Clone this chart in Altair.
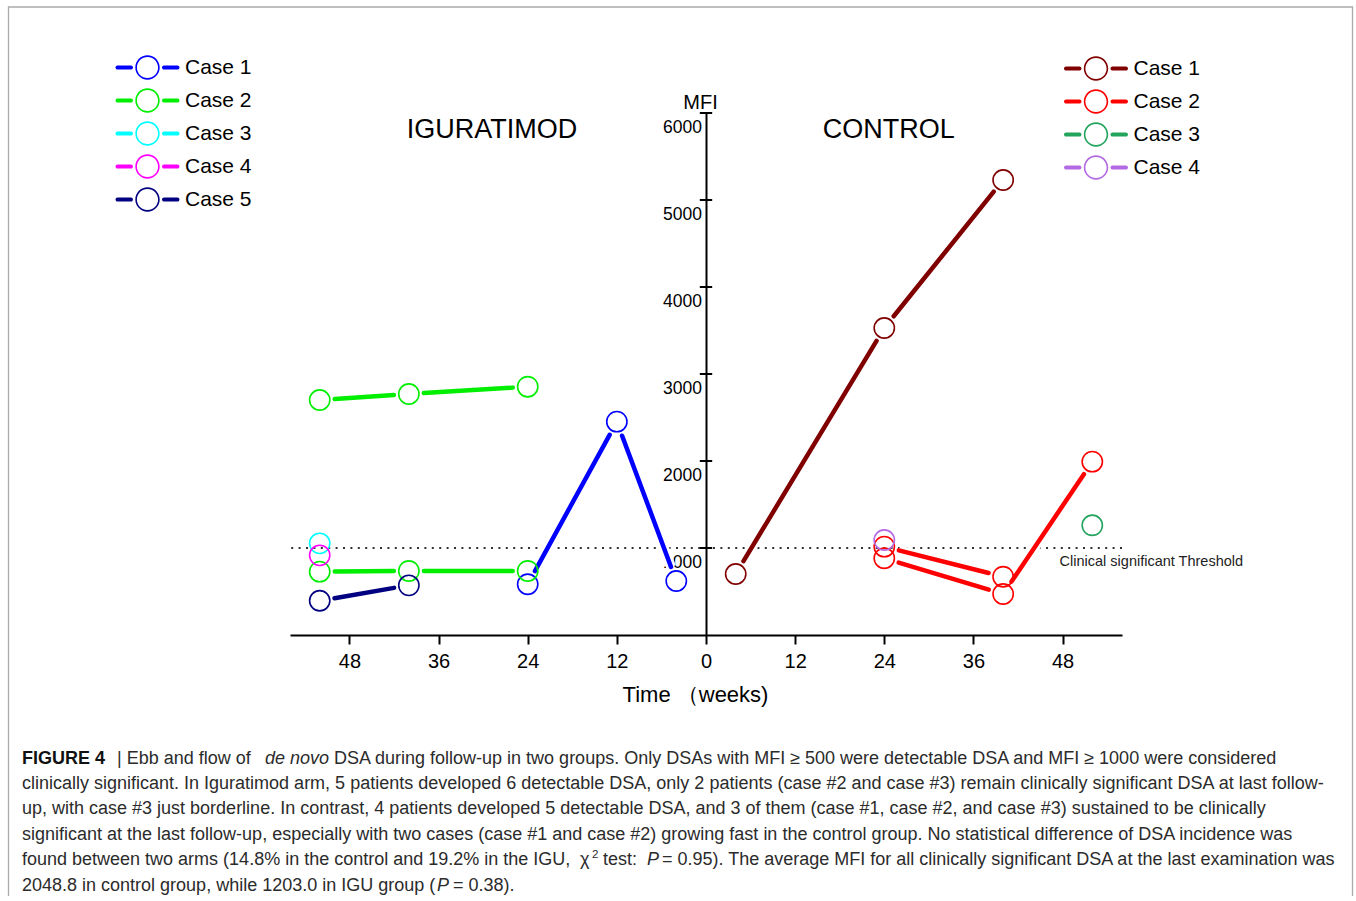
import altair as alt
import pandas as pd
import numpy as np

# ---------------- data ----------------
igu_cases = ["Case 1", "Case 2", "Case 3", "Case 4", "Case 5"]
ctl_cases = ["Case 1", "Case 2", "Case 3", "Case 4"]
igu_colors = ["#0000FF", "#00EE00", "#00FFFF", "#FF00FF", "#000080"]
ctl_colors = ["#800000", "#FF0000", "#22A45D", "#B36AE2"]

# one entry per DSA series (weeks of follow-up, MFI)
series_group = ["IGU", "IGU", "IGU", "IGU", "IGU", "IGU", "CTL", "CTL", "CTL", "CTL", "CTL"]
series_case = ["Case 1", "Case 2", "Case 2", "Case 3", "Case 4", "Case 5",
               "Case 1", "Case 2", "Case 2", "Case 3", "Case 4"]
series_weeks = [[24, 12, 4], [52, 40, 24], [52, 40, 24], [52], [52], [52, 40],
                [4, 24, 40], [24, 40], [24, 40, 52], [52], [24]]
series_mfi = [[583, 2452, 621], [2701, 2770, 2854], [728, 736, 736], [1054], [916], [394, 571],
              [701, 3529, 5230], [1015, 670], [882, 471, 1992], [1261], [1092]]

threshold = [1000]
y_tick_values = [1000, 2000, 3000, 4000, 5000, 6000]
x_tick_values = [-48, -36, -24, -12, 0, 12, 24, 36, 48]
panel_titles = ["IGURATIMOD", "CONTROL"]
panel_title_x = [-28.8, 24.6]
panel_title_y = [5713, 5713]

caption_segments = [
    (22, 0, "FIGURE 4", "bold"),
    (117, 0, "| Ebb and flow of", "normal"),
    (265, 0, "de novo", "italic"),
    (334, 0, "DSA during follow-up in two groups. Only DSAs with MFI \u2265 500 were detectable DSA and MFI \u2265 1000 were considered", "normal"),
    (22, 1, "clinically significant. In Iguratimod arm, 5 patients developed 6 detectable DSA, only 2 patients (case #2 and case #3) remain clinically significant DSA at last follow-", "normal"),
    (22, 2, "up, with case #3 just borderline. In contrast, 4 patients developed 5 detectable DSA, and 3 of them (case #1, case #2, and case #3) sustained to be clinically", "normal"),
    (22, 3, "significant at the last follow-up, especially with two cases (case #1 and case #2) growing fast in the control group. No statistical difference of DSA incidence was", "normal"),
    (22, 4, "found between two arms (14.8% in the control and 19.2% in the IGU,", "normal"),
    (580, 4, "\u03c7", "normal"),
    (592, 4, "2", "sup"),
    (603, 4, "test:", "normal"),
    (647, 4, "P", "italic"),
    (662, 4, "= 0.95). The average MFI for all clinically significant DSA at the last examination was", "normal"),
    (22, 5, "2048.8 in control group, while 1203.0 in IGU group (", "normal"),
    (437, 5, "P", "italic"),
    (453, 5, "= 0.38).", "normal"),
]
caption_baselines = [764, 789, 814, 840, 865, 891]

# ---------------- layout ----------------
W, H = 832, 522
LEFT, TOP = 290, 113
TOTAL_W, TOTAL_H = 1356, 896
XDOM, YDOM = [-56, 56], [0, 6000]
KX = W / (XDOM[1] - XDOM[0])
KY = H / (YDOM[1] - YDOM[0])
GAP = 15.0
FONT = "Liberation Sans"
CAP_SIZE = 18

X_SCALE = alt.Scale(domain=XDOM, nice=False, zero=False)
Y_SCALE = alt.Scale(domain=YDOM, nice=False, zero=False)
X_AXIS = alt.Axis(values=x_tick_values, labelExpr="format(abs(datum.value), 'd')",
                  title="Time \uff08weeks)", grid=False, domainColor="black", domainWidth=2,
                  tickColor="black", tickWidth=2, tickSize=9, labelFontSize=20, labelFont=FONT,
                  labelColor="black", labelPadding=7, labelFlush=False, labelBaseline="top",
                  titleFontSize=22, titleFont=FONT, titleFontWeight="normal", titleColor="black",
                  titleX=405, titleY=66, titleBaseline="alphabetic", titleAlign="center")
Y_AXIS = alt.Axis(orient="left", offset=-W / 2, values=y_tick_values, format="d", ticks=False,
                  tickSize=0, grid=False, domainColor="black", domainWidth=2, labelFontSize=17.5,
                  labelFont=FONT, labelColor="black", labelBaseline="top", labelOffset=5,
                  labelPadding=4.5, title="MFI", titleAngle=0, titleAlign="center",
                  titleBaseline="alphabetic", titleX=-6, titleY=-4.7, titleFontSize=20,
                  titleFont=FONT, titleFontWeight="normal", titleColor="black")


def X(f):
    return alt.X(f, type="quantitative", scale=X_SCALE, axis=X_AXIS)


def Y(f):
    return alt.Y(f, type="quantitative", scale=Y_SCALE, axis=Y_AXIS)


# ---------------- build tables ----------------
rows, segs = [], []
for sid, (g, c, wk, mf) in enumerate(zip(series_group, series_case, series_weeks, series_mfi)):
    sign = -1 if g == "IGU" else 1
    key = f"{g} {c}"
    xs = [sign * w for w in wk]
    for xv, yv in zip(xs, mf):
        rows.append(dict(sid=sid, key=key, group=g, case=c, x=xv, mfi=yv))
    for i in range(len(xs) - 1):
        x1, y1, x2, y2 = xs[i], mf[i], xs[i + 1], mf[i + 1]
        L = np.hypot((x2 - x1) * KX, (y2 - y1) * KY)
        t = GAP / L
        segs.append(dict(key=key, xa=x1 + (x2 - x1) * t, ya=y1 + (y2 - y1) * t,
                         xb=x2 - (x2 - x1) * t, yb=y2 - (y2 - y1) * t))
pts = pd.DataFrame(rows)
seg = pd.DataFrame(segs)

keys = [f"IGU {c}" for c in igu_cases] + [f"CTL {c}" for c in ctl_cases]
STROKE = alt.Stroke("key:N", scale=alt.Scale(domain=keys, range=igu_colors + ctl_colors), legend=None)

# ---------------- layers ----------------
one = alt.Data(values=[{}])

frame = alt.Chart(one).mark_rect(fill="transparent", stroke="#aaaaaa", strokeWidth=1.3).encode(
    x=alt.value(8.5 - LEFT), x2=alt.value(1352.5 - LEFT),
    y=alt.value(7 - TOP), y2=alt.value(930 - TOP))

thr_df = pd.DataFrame({"mfi": threshold, "x": [47.6]})
thr_rule = alt.Chart(thr_df).mark_rule(strokeDash=[2, 5.4], color="#333333", strokeWidth=1.8).encode(
    y=Y("mfi"))
thr_text = alt.Chart(thr_df).mark_text(text="Clinical significant Threshold", align="left",
                                       baseline="alphabetic", dy=18, fontSize=14.5, font=FONT,
                                       color="#222222").encode(x=X("x"), y=Y("mfi"))

casing = alt.Chart(seg).mark_rule(color="white", strokeWidth=10).encode(
    x=X("xa"), y=Y("ya"), x2="xb", y2="yb")
lines = alt.Chart(seg).mark_rule(strokeWidth=4.5, strokeCap="round").encode(
    x=X("xa"), y=Y("ya"), x2="xb", y2="yb", stroke=STROKE)
circles = alt.Chart(pts).mark_point(shape="circle", size=410, strokeWidth=1.6, filled=False,
                                    opacity=1).encode(x=X("x"), y=Y("mfi"), stroke=STROKE)

tick_df = pd.DataFrame({"v": y_tick_values, "x0": [0] * len(y_tick_values)})
yticks = alt.Chart(tick_df).mark_tick(orient="horizontal", size=12.4, thickness=2,
                                      color="black", opacity=1).encode(x=X("x0"), y=Y("v"))

titles_df = pd.DataFrame({"t": panel_titles, "x": panel_title_x, "y": panel_title_y})
titles = alt.Chart(titles_df).mark_text(fontSize=27, font=FONT, baseline="alphabetic",
                                        align="center", color="black").encode(
    x=X("x"), y=Y("y"), text="t:N")

# legend symbol: bar - ring - bar (units scaled by sqrt(size)/2)
h, a, b, ro, ri = 0.127, 1.006, 1.812, 0.739, 0.642
SYM = (f"M{a},{-h} L{b},{-h} A{h} {h} 0 0 1 {b},{h} L{a},{h} A{h} {h} 0 0 1 {a},{-h} Z "
       f"M{-b},{-h} L{-a},{-h} A{h} {h} 0 0 1 {-a},{h} L{-b},{h} A{h} {h} 0 0 1 {-b},{-h} Z "
       f"M{ro},0 A{ro} {ro} 0 1 1 {-ro},0 A{ro} {ro} 0 1 1 {ro},0 Z "
       f"M{ri},0 A{ri} {ri} 0 1 0 {-ri},0 A{ri} {ri} 0 1 0 {ri},0 Z")


def legend(lx, ly):
    return alt.Legend(title=None, orient="none", legendX=lx, legendY=ly, direction="vertical",
                      symbolType=SYM, symbolSize=1089, symbolStrokeWidth=0,
                      symbolStrokeColor="transparent", symbolOpacity=1, labelFontSize=21,
                      labelFont=FONT, labelColor="black", labelOffset=21, rowPadding=4, padding=0)


leg_igu = alt.Chart(pts[pts.group == "IGU"]).mark_point(filled=True, opacity=0, shape="circle").encode(
    x=X("x"), y=Y("mfi"),
    color=alt.Color("case:N", scale=alt.Scale(domain=igu_cases, range=igu_colors),
                    legend=legend(131 - LEFT, 67.5 - 16.5 - TOP)))
leg_ctl = alt.Chart(pts[pts.group == "CTL"]).mark_point(filled=True, opacity=0, shape="circle").encode(
    x=X("x"), y=Y("mfi"),
    fill=alt.Fill("case:N", scale=alt.Scale(domain=ctl_cases, range=ctl_colors),
                  legend=legend(1079.5 - LEFT, 68.5 - 16.5 - TOP)))

cap_layers = []
for xp, li, txt, style in caption_segments:
    kw = dict(text=txt, align="left", baseline="alphabetic", font=FONT, fontSize=CAP_SIZE,
              color="#2b2b2b")
    yb = caption_baselines[li]
    if style == "bold":
        kw.update(fontWeight="bold", color="#111111")
    elif style == "italic":
        kw.update(fontStyle="italic")
    elif style == "sup":
        kw.update(fontSize=11.5)
        yb -= 7.5
    cap_layers.append(alt.Chart(one).mark_text(**kw).encode(
        x=alt.value(xp - LEFT), y=alt.value(yb - TOP)))

chart = alt.layer(frame, thr_rule, thr_text, casing, lines, circles, yticks, titles,
                  leg_igu, leg_ctl, *cap_layers).resolve_scale(
    color="independent", fill="independent").properties(
    width=W, height=H,
    padding={"left": LEFT, "top": TOP, "right": TOTAL_W - LEFT - W, "bottom": TOTAL_H - TOP - H},
    autosize=alt.AutoSizeParams(type="none"),
    background="white",
).configure(font=FONT).configure_view(stroke="transparent")

chart.save("out.html", embed_options={"renderer": "svg", "actions": False})
